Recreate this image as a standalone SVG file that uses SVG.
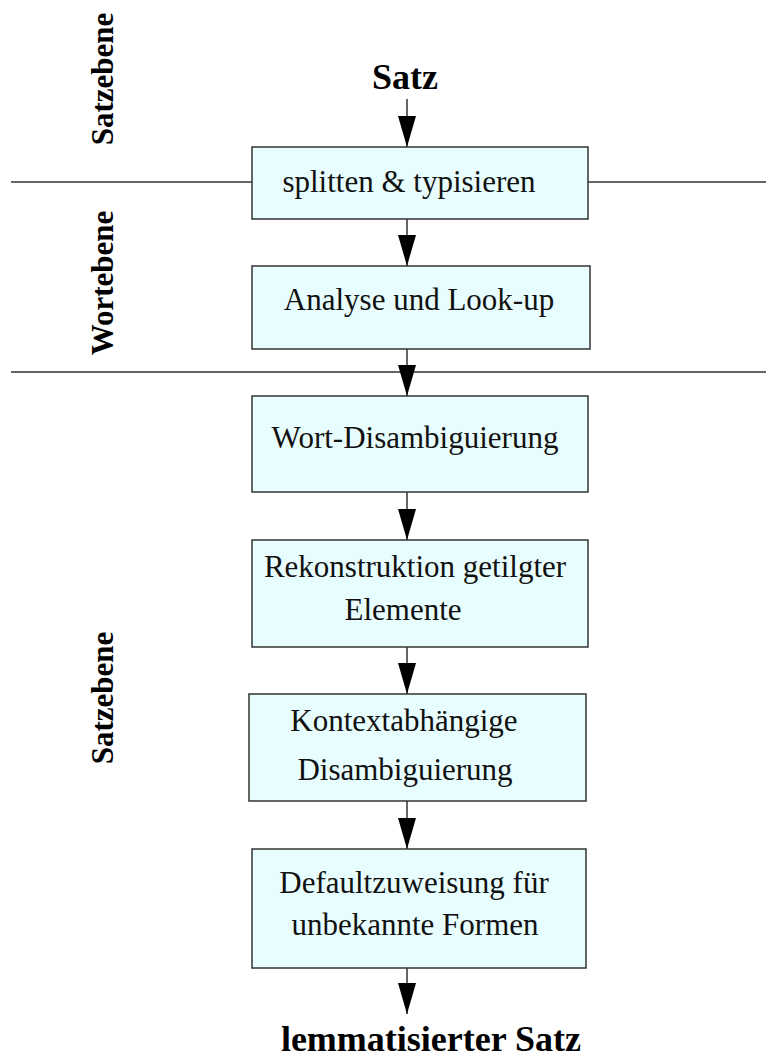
<svg xmlns="http://www.w3.org/2000/svg" width="769" height="1057" viewBox="0 0 769 1057">
<style>
.box{fill:#e8fdfd;stroke:#333;stroke-width:1.5}
.t{font-family:"Liberation Serif","Times New Roman",serif;font-size:31px;fill:#111;text-anchor:middle}
.b{font-family:"Liberation Serif","Times New Roman",serif;font-size:36px;font-weight:bold;fill:#000;text-anchor:middle}
.side{font-family:"Liberation Serif","Times New Roman",serif;font-size:31px;font-weight:bold;fill:#000;text-anchor:middle}
.sep{stroke:#333;stroke-width:1.5;fill:none}
.edge{stroke:#333;stroke-width:1.5;fill:none;marker-end:url(#ah)}
</style>
<defs>
<marker id="ah" markerUnits="userSpaceOnUse" markerWidth="31" markerHeight="18" viewBox="0 0 31 18" refX="31" refY="9" orient="auto">
<path d="M0,0 L31,9 L0,18 Z" fill="#000"/>
</marker>
</defs>
<rect width="769" height="1057" fill="#fff"/>
<g id="separators">
<line class="sep" x1="11" y1="182" x2="252" y2="182"/>
<line class="sep" x1="588" y1="182" x2="766" y2="182"/>
<line class="sep" x1="11" y1="372" x2="766" y2="372"/>
</g>
<g id="levels">
<text class="side" transform="translate(113,79) rotate(-90)">Satzebene</text>
<text class="side" transform="translate(113,283) rotate(-90)">Wortebene</text>
<text class="side" transform="translate(113,698) rotate(-90)">Satzebene</text>
</g>
<g id="connectors">
<line class="edge" x1="407" y1="99" x2="407" y2="147"/>
<line class="edge" x1="407" y1="219" x2="407" y2="266"/>
<line class="edge" x1="407" y1="349" x2="407" y2="396"/>
<line class="edge" x1="407" y1="492" x2="407" y2="540"/>
<line class="edge" x1="407" y1="647" x2="407" y2="694"/>
<line class="edge" x1="407" y1="801" x2="407" y2="849"/>
<line class="edge" x1="407" y1="968" x2="407" y2="1014"/>
</g>
<g id="input">
<text class="b" x="405" y="89">Satz</text>
</g>
<g id="n1">
<rect class="box" x="252" y="147" width="336" height="72"/>
<text class="t" x="409" y="192">splitten &amp; typisieren</text>
</g>
<g id="n2">
<rect class="box" x="252" y="266" width="338" height="83"/>
<text class="t" x="419" y="310">Analyse und Look-up</text>
</g>
<g id="n3">
<rect class="box" x="252" y="396" width="336" height="96"/>
<text class="t" x="415" y="448">Wort-Disambiguierung</text>
</g>
<g id="n4">
<rect class="box" x="252" y="540" width="336" height="107"/>
<text class="t" x="415" y="577">Rekonstruktion getilgter</text>
<text class="t" x="403" y="620">Elemente</text>
</g>
<g id="n5">
<rect class="box" x="249" y="694" width="337" height="107"/>
<text class="t" x="404" y="731">Kontextabhängige</text>
<text class="t" x="405" y="780">Disambiguierung</text>
</g>
<g id="n6">
<rect class="box" x="252" y="849" width="334" height="119"/>
<text class="t" x="414" y="893">Defaultzuweisung für</text>
<text class="t" x="415" y="935">unbekannte Formen</text>
</g>
<g id="output">
<text class="b" x="431" y="1051">lemmatisierter Satz</text>
</g>
</svg>
